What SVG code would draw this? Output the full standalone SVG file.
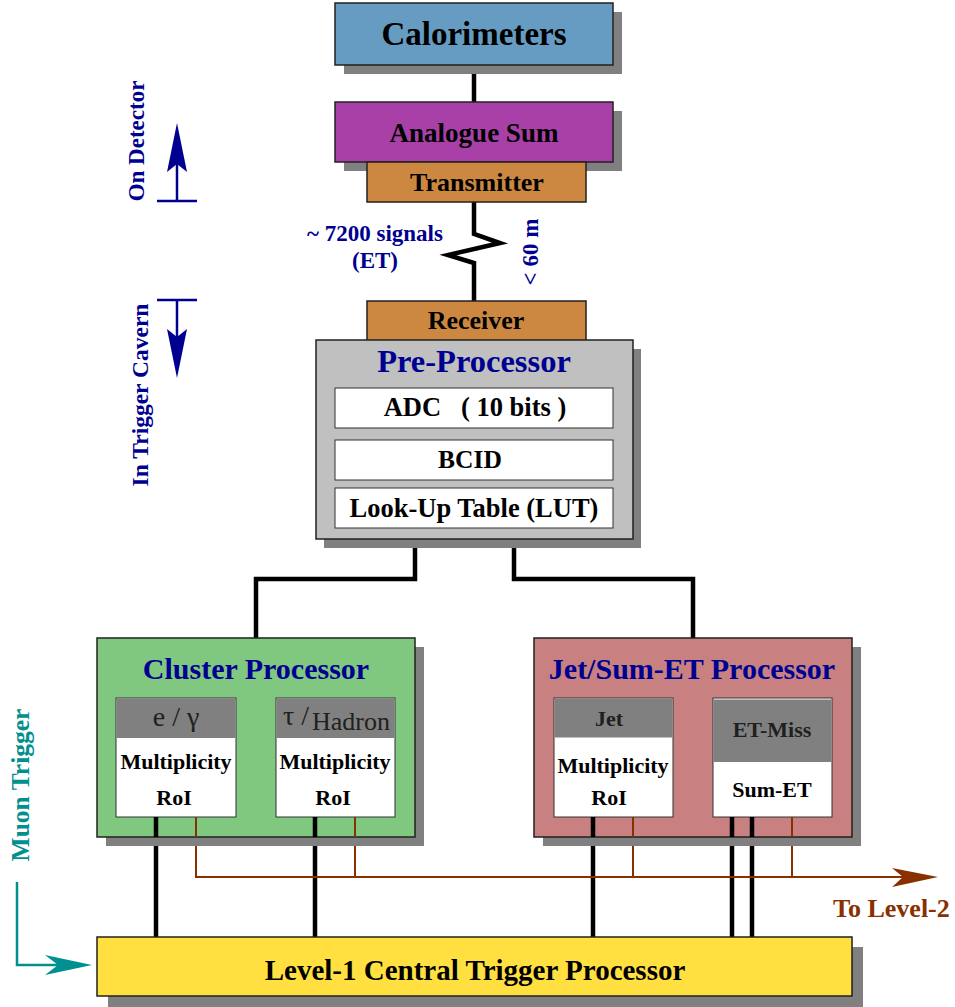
<svg xmlns="http://www.w3.org/2000/svg" width="955" height="1007" viewBox="0 0 955 1007">
<style>
text{font-family:"Liberation Serif","Times New Roman",serif;font-weight:bold;}
text.reg{font-weight:normal;fill:#202020;}
.box{stroke:#202020;stroke-width:1.5;}
.sh{fill:#808080;}
.sub{fill:#ffffff;stroke:#303030;stroke-width:1;}
.subg{fill:#808080;stroke:none;}
.blk{fill:#000;text-anchor:middle;}
.blue{fill:#000090;}
.thick{stroke:#000;stroke-width:4.5;fill:none;}
.brown{stroke:#883000;stroke-width:2;fill:none;}
.navy{stroke:#000090;stroke-width:2.5;fill:none;}
.teal{stroke:#009090;stroke-width:2.5;fill:none;}
</style>
<rect width="955" height="1007" fill="#ffffff"/>

<!-- side labels -->
<g id="on-detector">
<text class="blue" font-size="23" text-anchor="middle" transform="translate(144,141) rotate(-90)">On Detector</text>
<line class="navy" x1="157" y1="201" x2="197" y2="201"/>
<line class="navy" x1="177" y1="201" x2="177" y2="160"/>
<polygon fill="#000090" points="177,123 187,172 177,164 167,172"/>
</g>
<g id="in-trigger-cavern">
<text class="blue" font-size="23.5" text-anchor="middle" transform="translate(148,395) rotate(-90)">In Trigger Cavern</text>
<line class="navy" x1="157" y1="300" x2="197" y2="300"/>
<line class="navy" x1="177" y1="300" x2="177" y2="340"/>
<polygon fill="#000090" points="177,378 187,329 177,337 167,329"/>
</g>
<g id="muon-trigger">
<text fill="#009090" font-size="25.5" text-anchor="middle" transform="translate(29,785) rotate(-90)">Muon Trigger</text>
<polyline class="teal" points="17,882 17,965 60,965"/>
<polygon fill="#009090" points="92,965 45,955 58,965 45,975"/>
</g>

<!-- connectors -->
<g id="connectors">
<line class="thick" x1="474" y1="65" x2="474" y2="102"/>
<polyline fill="none" stroke="#000" stroke-width="4.5" points="474,202 474,234 500,243 448,255 474,263 474,301"/>
<polyline class="thick" points="415,539 415,579 256,579 256,638"/>
<polyline class="thick" points="514,539 514,579 693,579 693,638"/>
<line class="thick" x1="156" y1="817" x2="156" y2="937"/>
<line class="thick" x1="315" y1="817" x2="315" y2="937"/>
<line class="thick" x1="593" y1="817" x2="593" y2="937"/>
<line class="thick" x1="732" y1="817" x2="732" y2="937"/>
<line class="thick" x1="752" y1="817" x2="752" y2="937"/>
<polyline class="brown" points="196,817 196,877 905,877"/>
<line class="brown" x1="355" y1="817" x2="355" y2="877"/>
<line class="brown" x1="633" y1="817" x2="633" y2="877"/>
<line class="brown" x1="792" y1="817" x2="792" y2="877"/>
<polygon fill="#883000" points="938,877 892,868 903,877 892,887"/>
<text fill="#883000" font-size="26" x="833" y="917">To Level-2</text>
<text class="blue" font-size="23" text-anchor="middle" x="375" y="241">~ 7200 signals</text>
<text class="blue" font-size="23" text-anchor="middle" x="375" y="268">(ET)</text>
<text class="blue" font-size="23" text-anchor="middle" transform="translate(538,252) rotate(-90)">&lt; 60 m</text>
</g>

<g id="calorimeters">
<rect class="sh" x="344" y="12" width="278" height="62"/>
<rect class="box" x="335" y="3" width="278" height="62" fill="#669cc2"/>
<text class="blk" font-size="33" x="474" y="45">Calorimeters</text>
</g>

<g id="analogue-sum">
<rect class="sh" x="344" y="111" width="278" height="60"/>
<rect class="box" x="335" y="102" width="278" height="60" fill="#a840a8"/>
<text class="blk" font-size="27" x="474" y="142">Analogue Sum</text>
</g>

<g id="transmitter">
<rect class="box" x="367" y="162" width="219" height="40" fill="#cc8840"/>
<text class="blk" font-size="26" x="477" y="191">Transmitter</text>
</g>

<g id="receiver">
<rect class="box" x="367" y="301" width="219" height="40" fill="#cc8840"/>
<text class="blk" font-size="26" x="476" y="329">Receiver</text>
</g>

<g id="pre-processor">
<rect class="sh" x="324" y="349" width="317" height="199"/>
<rect class="box" x="316" y="340" width="317" height="199" fill="#c0c0c0"/>
<text class="blue" font-size="32.5" text-anchor="middle" x="474" y="372">Pre-Processor</text>
<rect class="sub" x="335" y="388" width="278" height="40"/>
<text class="blk" font-size="26.5" x="475" y="416" xml:space="preserve">ADC   ( 10 bits )</text>
<rect class="sub" x="335" y="440" width="278" height="40"/>
<text class="blk" font-size="25.5" x="470" y="468">BCID</text>
<rect class="sub" x="335" y="488" width="278" height="40"/>
<text class="blk" font-size="26.5" x="474" y="517">Look-Up Table (LUT)</text>
</g>

<g id="cluster-processor">
<rect class="sh" x="106" y="647" width="318" height="199"/>
<rect class="box" x="97" y="638" width="318" height="199" fill="#80c880"/>
<text class="blue" font-size="30" text-anchor="middle" x="256" y="679">Cluster Processor</text>
<rect class="sub" x="116" y="698" width="120" height="119"/>
<rect class="subg" x="116.5" y="698.5" width="119" height="39.5"/>
<text class="reg" font-size="28" text-anchor="middle" x="176" y="726">e / γ</text>
<text class="blk" font-size="22" x="176" y="769">Multiplicity</text>
<text class="blk" font-size="22" x="174" y="805">RoI</text>
<rect class="sub" x="276" y="698" width="119" height="119"/>
<rect class="subg" x="276.5" y="698.5" width="118" height="39.5"/>
<text class="reg" font-size="28" x="283" y="725">τ /</text>
<text class="reg" font-size="26" x="312" y="730">Hadron</text>
<text class="blk" font-size="22" x="335" y="769">Multiplicity</text>
<text class="blk" font-size="22" x="333" y="805">RoI</text>
<line class="thick" x1="156" y1="817" x2="156" y2="837"/>
<line class="thick" x1="315" y1="817" x2="315" y2="837"/>
<line class="brown" x1="196" y1="817" x2="196" y2="837"/>
<line class="brown" x1="355" y1="817" x2="355" y2="837"/>
</g>

<g id="jet-sum-et-processor">
<rect class="sh" x="543" y="647" width="318" height="199"/>
<rect class="box" x="534" y="638" width="318" height="199" fill="#c88080"/>
<text class="blue" font-size="30" text-anchor="middle" x="692" y="679">Jet/Sum-ET Processor</text>
<rect class="sub" x="554" y="698" width="119" height="119"/>
<rect class="subg" x="554.5" y="698.5" width="118" height="39"/>
<text fill="#202020" font-size="22" text-anchor="middle" x="609" y="726">Jet</text>
<text class="blk" font-size="22" x="613" y="773">Multiplicity</text>
<text class="blk" font-size="22" x="609" y="805">RoI</text>
<rect class="sub" x="713" y="698" width="119" height="119"/>
<rect class="subg" x="713.5" y="699.5" width="118" height="62.5"/>
<text fill="#202020" font-size="22" text-anchor="middle" x="772" y="737">ET-Miss</text>
<text class="blk" font-size="22" x="772" y="797">Sum-ET</text>
<line class="thick" x1="593" y1="817" x2="593" y2="837"/>
<line class="thick" x1="732" y1="817" x2="732" y2="837"/>
<line class="thick" x1="752" y1="817" x2="752" y2="837"/>
<line class="brown" x1="633" y1="817" x2="633" y2="837"/>
<line class="brown" x1="792" y1="817" x2="792" y2="837"/>
</g>

<g id="level1-ctp">
<rect class="sh" x="108" y="947" width="755" height="60"/>
<rect class="box" x="97" y="937" width="755" height="59" fill="#ffe040"/>
<text class="blk" font-size="29" x="475" y="980">Level-1 Central Trigger Processor</text>
</g>
</svg>
